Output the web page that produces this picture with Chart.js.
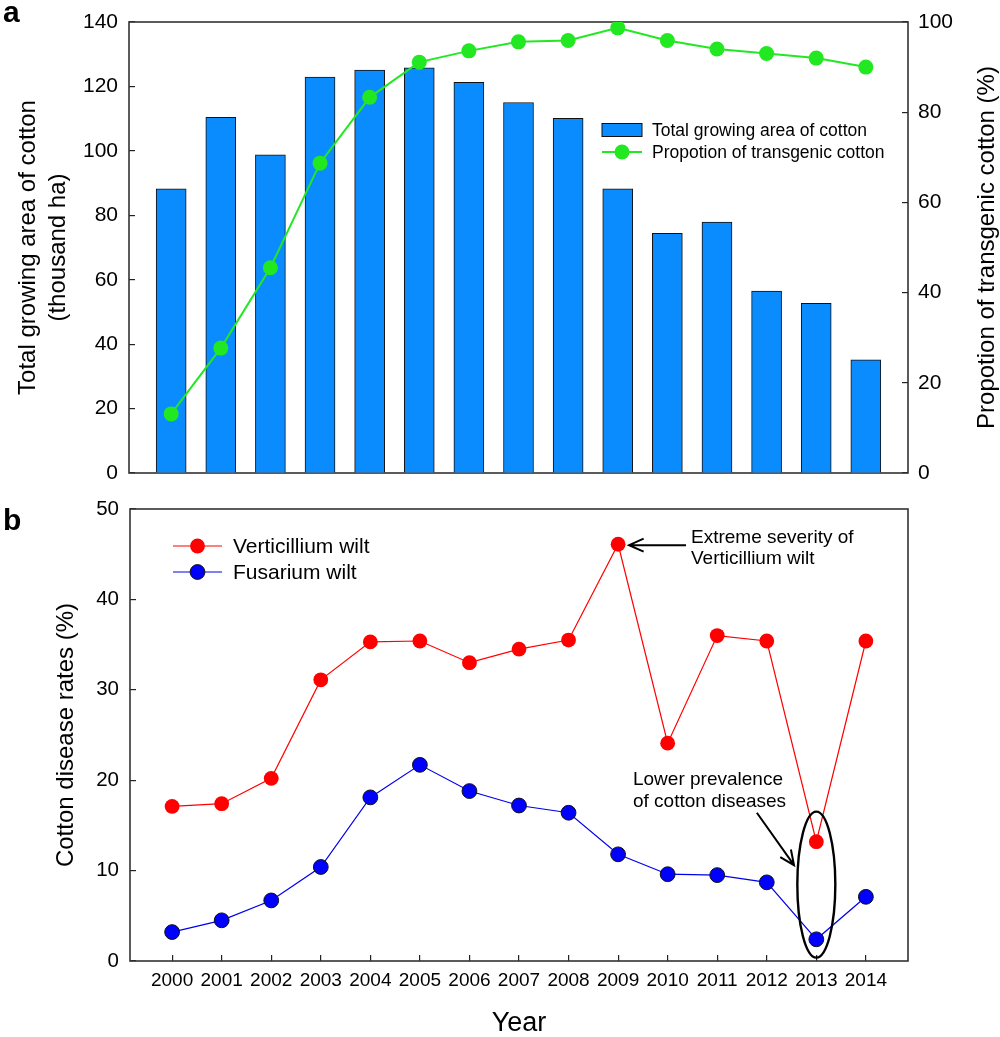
<!DOCTYPE html>
<html lang="en">
<head>
    <meta charset="UTF-8">
    <title>Cotton area and disease rates</title>
    <script src="https://cdn.jsdelivr.net/npm/chart.js@4"></script>
    <style>
        html, body { margin: 0; padding: 0; background: #fff; overflow: hidden; }
        #wrap { position: relative; width: 1000px; height: 1037px; }
        canvas { position: absolute; left: 0; }
        #areaChart { top: 0; }
        #diseaseChart { top: 490px; }
    </style>
</head>
<body>
<div id="wrap">
    <canvas id="areaChart" width="1000" height="490"></canvas>
    <canvas id="diseaseChart" width="1000" height="550"></canvas>
</div>

<script>
    // data
    const years = [2000, 2001, 2002, 2003, 2004, 2005, 2006, 2007, 2008, 2009, 2010, 2011, 2012, 2013, 2014];
    const growingArea = [88.2, 110.4, 98.8, 122.9, 125.1, 125.8, 121.3, 115.0, 110.1, 88.2, 74.4, 77.9, 56.5, 52.7, 35.1];
    const transgenicShare = [13.1, 27.7, 45.5, 68.7, 83.3, 91.1, 93.6, 95.6, 95.9, 98.7, 95.9, 94.0, 93.0, 92.0, 90.0];
    const verticillium = [17.1, 17.4, 20.2, 31.1, 35.3, 35.4, 33.0, 34.5, 35.5, 46.1, 24.1, 36.0, 35.4, 13.2, 35.4];
    const fusarium = [3.2, 4.5, 6.7, 10.4, 18.1, 21.7, 18.8, 17.2, 16.4, 11.8, 9.6, 9.5, 8.7, 2.4, 7.1];
    const areaTicks = [0, 20, 40, 60, 80, 100, 120, 140];
    const shareTicks = [0, 20, 40, 60, 80, 100];
    const rateTicks = [0, 10, 20, 30, 40, 50];

    const FONT = '"Liberation Sans", Arial, sans-serif';
    const INK = '#222';
    const BAR_BLUE = '#0a8cff';
    const GREEN = '#22e822';

    const pts = (vals) => years.map((yr, i) => ({ x: yr, y: vals[i] }));
    const fixTicks = (list) => (scale) => { scale.ticks = list.map(v => ({ value: v })); };
    // fixed axis size; drop the label overhang padding so layout.padding decides the plot box
    const fitWidth = (w) => (s) => { s.width = w; s.paddingTop = 0; s.paddingBottom = 0; };
    const fitHeight = (h) => (s) => { s.height = h; s.paddingLeft = 0; s.paddingRight = 0; };

    // inward tick marks (negative length), no grid in the plot area
    const tickGrid = { drawOnChartArea: false, tickLength: -6, color: INK, lineWidth: 1.2 };

    // box around the plot area
    const frame = {
        id: 'frame',
        beforeDatasetsDraw(chart) {
            const { ctx, chartArea: a } = chart;
            ctx.save();
            ctx.strokeStyle = '#333';
            ctx.lineWidth = 1.6;
            ctx.strokeRect(a.left, a.top, a.right - a.left, a.bottom - a.top);
            ctx.restore();
        }
    };

    function panelLetter(ctx, txt, x, y) {
        ctx.save();
        ctx.font = 'bold 30px ' + FONT;
        ctx.fillStyle = '#000';
        ctx.textBaseline = 'alphabetic';
        ctx.fillText(txt, x, y);
        ctx.restore();
    }

    function arrow(ctx, x1, y1, x2, y2) {
        const ang = Math.atan2(y2 - y1, x2 - x1);
        const len = 16, spread = 0.42;
        ctx.beginPath();
        ctx.moveTo(x1, y1);
        ctx.lineTo(x2, y2);
        ctx.moveTo(x2 - len * Math.cos(ang - spread), y2 - len * Math.sin(ang - spread));
        ctx.lineTo(x2, y2);
        ctx.lineTo(x2 - len * Math.cos(ang + spread), y2 - len * Math.sin(ang + spread));
        ctx.stroke();
    }

    function legendRow(ctx, ds, x, y, kind, fontPx) {
        ctx.save();
        if (kind === 'box') {
            ctx.fillStyle = ds.backgroundColor;
            ctx.fillRect(x, y - 6.5, 40, 13);
            ctx.strokeStyle = ds.borderColor;
            ctx.lineWidth = 1;
            ctx.strokeRect(x, y - 6.5, 40, 13);
            x += 50;
        } else {
            const w = kind.lineLen;
            ctx.strokeStyle = ds.borderColor;
            ctx.lineWidth = ds.borderWidth;
            ctx.beginPath();
            ctx.moveTo(x, y);
            ctx.lineTo(x + w, y);
            ctx.stroke();
            ctx.beginPath();
            ctx.arc(x + w / 2, y, ds.pointRadius, 0, Math.PI * 2);
            ctx.fillStyle = ds.pointBackgroundColor;
            ctx.fill();
            if (ds.pointBorderWidth) {
                ctx.lineWidth = ds.pointBorderWidth;
                ctx.strokeStyle = ds.pointBorderColor;
                ctx.stroke();
            }
            x += w + kind.gap;
        }
        ctx.fillStyle = '#000';
        ctx.font = fontPx + 'px ' + FONT;
        ctx.textBaseline = 'middle';
        ctx.fillText(ds.label, x, y + 1);
        ctx.restore();
    }

    // panel a extras: letter, legend, right-hand title (reads bottom to top)
    const areaExtras = {
        id: 'areaExtras',
        afterDraw(chart) {
            const { ctx, chartArea: a } = chart;
            panelLetter(ctx, 'a', 3, 22);
            const ds = chart.data.datasets;
            legendRow(ctx, ds[1], 602, 130, 'box', 17.5);
            legendRow(ctx, ds[0], 602, 152, { lineLen: 40, gap: 10 }, 17.5);
            ctx.save();
            ctx.translate(987, (a.top + a.bottom) / 2);
            ctx.rotate(-Math.PI / 2);
            ctx.font = '24px ' + FONT;
            ctx.fillStyle = '#000';
            ctx.textAlign = 'center';
            ctx.textBaseline = 'middle';
            ctx.fillText('Propotion of transgenic cotton (%)', 0, 0);
            ctx.restore();
        }
    };

    new Chart(document.getElementById('areaChart'), {
        type: 'bar',
        data: {
            datasets: [
                {
                    type: 'line',
                    label: 'Propotion of transgenic cotton',
                    data: pts(transgenicShare),
                    yAxisID: 'y2',
                    borderColor: GREEN,
                    borderWidth: 2,
                    pointRadius: 7.5,
                    pointBackgroundColor: GREEN,
                    pointBorderWidth: 0,
                    order: 0
                },
                {
                    type: 'bar',
                    label: 'Total growing area of cotton',
                    data: pts(growingArea),
                    yAxisID: 'y',
                    backgroundColor: BAR_BLUE,
                    borderColor: '#111',
                    borderWidth: 1,
                    barThickness: 30,
                    order: 1
                }
            ]
        },
        options: {
            responsive: false,
            animation: false,
            layout: { padding: { top: 22, bottom: 17, left: 0, right: 0 } },
            plugins: { legend: { display: false }, tooltip: { enabled: false } },
            scales: {
                x: {
                    type: 'linear',
                    display: false,
                    offset: false,
                    min: 1999.15,
                    max: 2014.85
                },
                y: {
                    position: 'left',
                    min: 0,
                    max: 140,
                    afterBuildTicks: fixTicks(areaTicks),
                    afterFit: fitWidth(129),
                    grid: tickGrid,
                    border: { display: false },
                    ticks: { padding: 17, color: '#000', font: { family: FONT, size: 21 } },
                    title: {
                        display: true,
                        text: ['Total growing area of cotton', '(thousand ha)'],
                        color: '#000',
                        font: { family: FONT, size: 24, lineHeight: 1.25 },
                        padding: { top: 13, bottom: 0 }
                    }
                },
                y2: {
                    position: 'right',
                    min: 0,
                    max: 100,
                    afterBuildTicks: fixTicks(shareTicks),
                    afterFit: fitWidth(92),
                    grid: tickGrid,
                    border: { display: false },
                    ticks: { padding: 16, color: '#000', font: { family: FONT, size: 21 } }
                }
            }
        },
        plugins: [frame, areaExtras]
    });

    // panel b extras: letter, legend, callouts
    const diseaseExtras = {
        id: 'diseaseExtras',
        afterDraw(chart) {
            const { ctx } = chart;
            const sx = chart.scales.x, sy = chart.scales.y;
            const X = (v) => sx.getPixelForValue(v);
            const Y = (v) => sy.getPixelForValue(v);

            panelLetter(ctx, 'b', 3, 40);

            const ds = chart.data.datasets;
            legendRow(ctx, ds[0], 173, 56, { lineLen: 49, gap: 11 }, 21);
            legendRow(ctx, ds[1], 173, 82, { lineLen: 49, gap: 11 }, 21);

            ctx.save();
            ctx.strokeStyle = '#000';
            ctx.fillStyle = '#000';
            ctx.lineWidth = 2;
            ctx.font = '19px ' + FONT;
            ctx.textBaseline = 'middle';

            // peak of Verticillium wilt in 2009
            arrow(ctx, X(2010.37), Y(46.0), X(2009.22), Y(46.0));
            ctx.fillText('Extreme severity of', X(2010.47), Y(46.85));
            ctx.fillText('Verticillium wilt', X(2010.47), Y(44.45));

            // low point of both diseases in 2013
            ctx.fillText('Lower prevalence', X(2009.3), Y(20.05));
            ctx.fillText('of cotton diseases', X(2009.3), Y(17.6));
            arrow(ctx, X(2011.8), Y(16.4), X(2012.55), Y(10.6));

            ctx.lineWidth = 2.4;
            ctx.beginPath();
            ctx.ellipse(X(2013), Y(8.45), 19, 73, 0, 0, Math.PI * 2);
            ctx.stroke();
            ctx.restore();
        }
    };

    new Chart(document.getElementById('diseaseChart'), {
        type: 'line',
        data: {
            datasets: [
                {
                    label: 'Verticillium wilt',
                    data: pts(verticillium),
                    borderColor: '#ff0000',
                    borderWidth: 1.2,
                    pointRadius: 7.4,
                    pointBackgroundColor: '#ff0000',
                    pointBorderWidth: 0
                },
                {
                    label: 'Fusarium wilt',
                    data: pts(fusarium),
                    borderColor: '#0000ee',
                    borderWidth: 1.2,
                    pointRadius: 7.4,
                    pointBackgroundColor: '#0000ff',
                    pointBorderColor: '#111',
                    pointBorderWidth: 1
                }
            ]
        },
        options: {
            responsive: false,
            animation: false,
            layout: { padding: { top: 19, bottom: 0, left: 0, right: 92 } },
            plugins: { legend: { display: false }, tooltip: { enabled: false } },
            scales: {
                x: {
                    type: 'linear',
                    offset: false,
                    min: 1999.15,
                    max: 2014.85,
                    afterBuildTicks: fixTicks(years),
                    afterFit: fitHeight(79),
                    grid: tickGrid,
                    border: { display: false },
                    ticks: {
                        padding: 14,
                        color: '#000',
                        maxRotation: 0,
                        autoSkip: false,
                        font: { family: FONT, size: 19 },
                        callback: (v) => String(v)
                    },
                    title: {
                        display: true,
                        text: 'Year',
                        color: '#000',
                        font: { family: FONT, size: 27 },
                        padding: { top: 0, bottom: 0 }
                    }
                },
                y: {
                    min: 0,
                    max: 50,
                    afterBuildTicks: fixTicks(rateTicks),
                    afterFit: fitWidth(130),
                    grid: tickGrid,
                    border: { display: false },
                    ticks: { padding: 17, color: '#000', font: { family: FONT, size: 20.5 } },
                    title: {
                        display: true,
                        text: 'Cotton disease rates (%)',
                        color: '#000',
                        font: { family: FONT, size: 24 },
                        padding: { top: 52, bottom: 0 }
                    }
                }
            }
        },
        plugins: [frame, diseaseExtras]
    });
</script>
</body>
</html>
